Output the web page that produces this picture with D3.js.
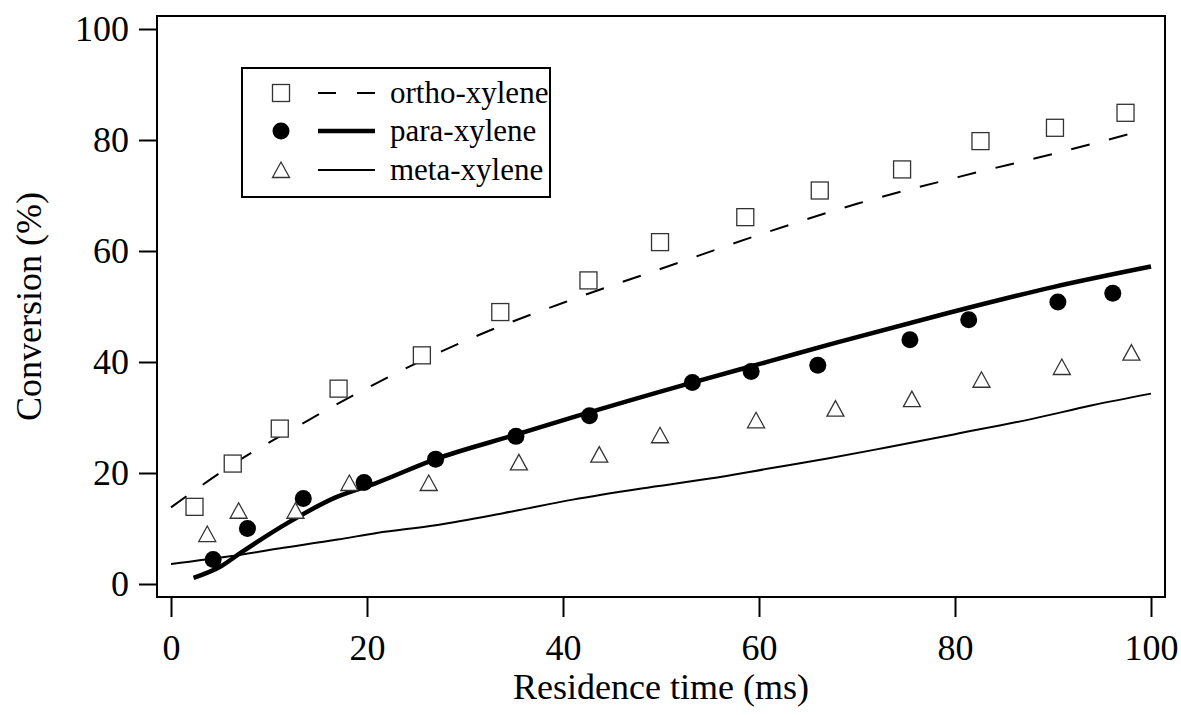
<!DOCTYPE html>
<html>
<head>
<meta charset="utf-8">
<script src="https://cdn.jsdelivr.net/npm/d3@7"></script>
<style>
  body { margin: 0; background: #fff; }
  svg { display: block; font-family: "Liberation Serif", "Times New Roman", serif; }
</style>
</head>
<body>
<div id="chart"></div>
<script>
// measured points (symbols)
var orthoX = [2.4, 6.3, 11.1, 17.1, 25.6, 33.6, 42.6, 49.9, 58.6, 66.2, 74.6, 82.6, 90.2, 97.4];
var orthoY = [13.9, 21.7, 28.0, 35.2, 41.2, 49.0, 54.7, 61.6, 66.1, 70.9, 74.7, 79.8, 82.2, 84.9];
var paraX = [4.3, 7.8, 13.5, 19.7, 27.0, 35.2, 42.7, 53.2, 59.2, 66.0, 75.4, 81.4, 90.5, 96.1];
var paraY = [4.4, 10.0, 15.4, 18.3, 22.5, 26.6, 30.3, 36.3, 38.3, 39.4, 44.0, 47.6, 50.8, 52.4];
var metaX = [3.7, 6.9, 12.7, 18.2, 26.3, 35.5, 43.7, 49.9, 59.7, 67.8, 75.6, 82.7, 90.9, 98.0];
var metaY = [9.0, 13.2, 13.2, 18.2, 18.2, 21.9, 23.3, 26.8, 29.5, 31.6, 33.3, 36.8, 39.1, 41.7];

// model curves
var orthoFit = [[0, 13.8], [6, 21.2], [14, 29.5], [20, 35.3], [30, 43.8], [41, 51.3], [50, 56.8], [61, 63.5], [70, 68.5], [80.5, 73.4], [90, 77.5], [98.5, 81.4]];
var paraFit = [[2.3, 1.1], [5.1, 3.2], [7.1, 5.6], [12, 11.1], [16.8, 15.6], [20.8, 18.1], [27, 22.5], [35, 26.8], [41.3, 30.2], [53, 36.2], [61.2, 40.2], [67.7, 43.4], [79, 48.7], [90, 53.5], [100, 57.2]];
var metaFit = [[0, 3.6], [6, 5.0], [11, 6.4], [17, 8.0], [21, 9.2], [27, 10.6], [34, 12.8], [41, 15.2], [48, 17.2], [55, 19.0], [61, 20.8], [67, 22.6], [73, 24.6], [80, 27.0], [88, 29.8], [94, 32.2], [100, 34.3]];

var xTicks = [0, 20, 40, 60, 80, 100];
var yTicks = [0, 20, 40, 60, 80, 100];
var legendNames = ["ortho-xylene", "para-xylene", "meta-xylene"];

var width = 1181, height = 715;
var frame = {left: 157, top: 16, right: 1165, bottom: 597};

var svg = d3.select("#chart").append("svg")
  .attr("width", width)
  .attr("height", height);

var x = d3.scaleLinear().domain([0, 100]).range([171, 1151]);
var y = d3.scaleLinear().domain([0, 100]).range([584, 29]);

// frame
svg.append("rect")
  .attr("x", frame.left).attr("y", frame.top)
  .attr("width", frame.right - frame.left)
  .attr("height", frame.bottom - frame.top)
  .attr("fill", "none").attr("stroke", "#000").attr("stroke-width", 2);

// axes
var xAxis = svg.append("g")
  .attr("transform", "translate(0," + frame.bottom + ")")
  .call(d3.axisBottom(x).tickValues(xTicks).tickSize(20).tickPadding(17).tickFormat(d3.format("d")));
xAxis.select(".domain").remove();
xAxis.selectAll("line").attr("stroke-width", 2);
xAxis.selectAll("text").attr("font-size", 36).attr("font-family", "Liberation Serif").attr("fill", "#000");

var yAxis = svg.append("g")
  .attr("transform", "translate(" + frame.left + ",0)")
  .call(d3.axisLeft(y).tickValues(yTicks).tickSize(18).tickPadding(10).tickFormat(d3.format("d")));
yAxis.select(".domain").remove();
yAxis.selectAll("line").attr("stroke-width", 2);
yAxis.selectAll("text").attr("font-size", 36).attr("font-family", "Liberation Serif").attr("fill", "#000");

// axis titles
svg.append("text")
  .attr("x", (frame.left + frame.right) / 2).attr("y", 699)
  .attr("text-anchor", "middle").attr("font-size", 36)
  .text("Residence time (ms)");

svg.append("text")
  .attr("transform", "translate(41," + ((frame.top + frame.bottom) / 2) + ") rotate(-90)")
  .attr("text-anchor", "middle").attr("font-size", 36)
  .text("Conversion (%)");

// curves
var line = d3.line()
  .x(function(d) { return x(d[0]); })
  .y(function(d) { return y(d[1]); })
  .curve(d3.curveMonotoneX);

svg.append("path").datum(orthoFit).attr("d", line)
  .attr("fill", "none").attr("stroke", "#000").attr("stroke-width", 2).attr("stroke-dasharray", "19,20");
svg.append("path").datum(paraFit).attr("d", line)
  .attr("fill", "none").attr("stroke", "#000").attr("stroke-width", 4.5).attr("stroke-linejoin", "round");
svg.append("path").datum(metaFit).attr("d", line)
  .attr("fill", "none").attr("stroke", "#000").attr("stroke-width", 2);

// marker helpers
function square(g, cx, cy) {
  g.append("rect").attr("x", cx - 8.5).attr("y", cy - 8.5).attr("width", 17).attr("height", 17)
    .attr("fill", "#fff").attr("stroke", "#333").attr("stroke-width", 1.3);
}
function dot(g, cx, cy) {
  g.append("circle").attr("cx", cx).attr("cy", cy).attr("r", 8.5).attr("fill", "#000");
}
function triangle(g, cx, cy) {
  var p = [[cx - 8.5, cy + 7.5], [cx + 8.5, cy + 7.5], [cx, cy - 8]];
  g.append("path").attr("d", "M" + p.join("L") + "Z")
    .attr("fill", "#fff").attr("stroke", "#333").attr("stroke-width", 1.3);
}

var marks = svg.append("g");
orthoX.forEach(function(v, i) { square(marks, x(v), y(orthoY[i])); });
paraX.forEach(function(v, i) { dot(marks, x(v), y(paraY[i])); });
metaX.forEach(function(v, i) { triangle(marks, x(v), y(metaY[i])); });

// legend
var legend = svg.append("g");
legend.append("rect").attr("x", 242).attr("y", 68).attr("width", 308).attr("height", 129)
  .attr("fill", "#fff").attr("stroke", "#000").attr("stroke-width", 2);
var rows = [93, 131, 170];
var drawers = [square, dot, triangle];
var dashes = ["18,21", null, null];
var widths = [2, 4.5, 2];
legendNames.forEach(function(name, i) {
  drawers[i](legend, 281, rows[i]);
  legend.append("line").attr("x1", 318).attr("x2", 375).attr("y1", rows[i]).attr("y2", rows[i])
    .attr("stroke", "#000").attr("stroke-width", widths[i])
    .attr("stroke-dasharray", dashes[i]);
  legend.append("text").attr("x", 390).attr("y", rows[i] + 10)
    .attr("font-size", 31).text(name);
});
</script>
</body>
</html>
